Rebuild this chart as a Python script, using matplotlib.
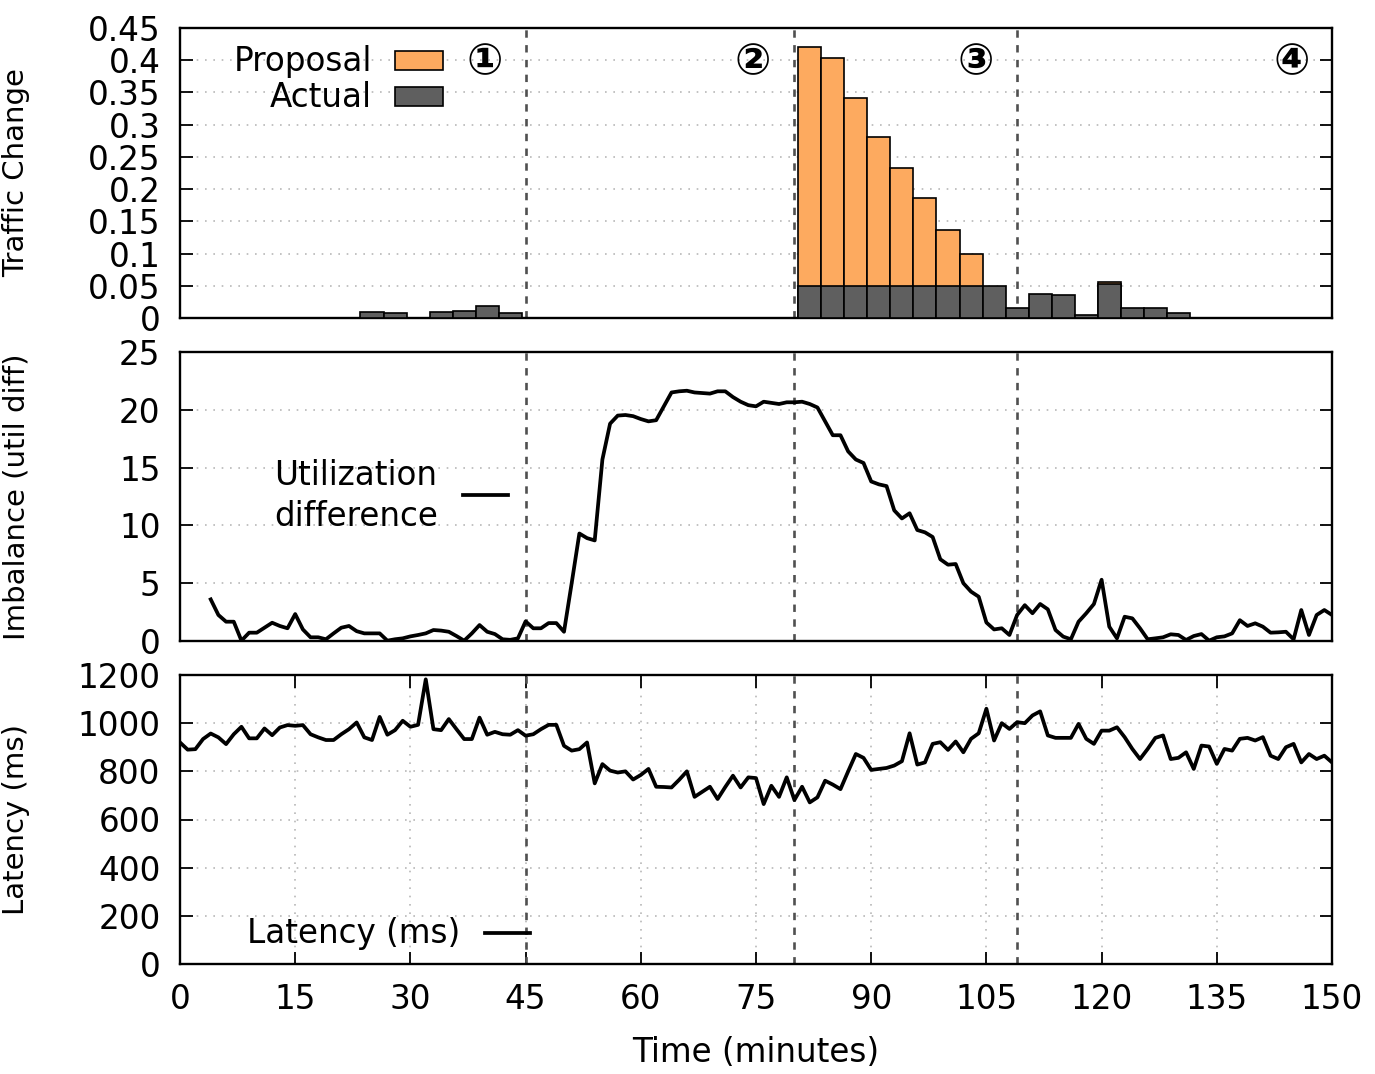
import matplotlib
matplotlib.use("Agg")
import matplotlib.pyplot as plt
import numpy as np
from matplotlib.patches import Rectangle
from matplotlib.lines import Line2D

# ---- data ----
bar_t = [25, 28, 31, 34, 37, 40, 43,
         82, 85, 88, 91, 94, 97, 100, 103, 106,
         109, 112, 115, 118, 121, 124, 127, 130]
proposal = [0, 0, 0, 0, 0, 0, 0,
            0.420, 0.403, 0.341, 0.281, 0.232, 0.186, 0.137, 0.099, 0,
            0, 0, 0, 0, 0.0555, 0, 0, 0]
actual = [0.010, 0.007, 0.0, 0.009, 0.011, 0.018, 0.007,
          0.05, 0.05, 0.05, 0.05, 0.05, 0.05, 0.05, 0.05, 0.05,
          0.015, 0.037, 0.036, 0.005, 0.053, 0.016, 0.016, 0.007]

imb_t = list(range(4, 151))
imbalance = [
    3.6, 2.25, 1.67, 1.67, 0.03, 0.72, 0.72, 1.15, 1.58, 1.3,           # 4-13
    1.1, 2.33, 1.0, 0.32, 0.32, 0.15, 0.66, 1.15, 1.3, 0.85,           # 14-23
    0.66, 0.66, 0.66, 0.03, 0.15, 0.23, 0.4, 0.52, 0.66, 0.95,         # 24-33
    0.9, 0.8, 0.43, 0.03, 0.66, 1.38, 0.8, 0.6, 0.15, 0.1,             # 34-43
    0.23, 1.7, 1.1, 1.1, 1.55, 1.55, 0.8, 5.0, 9.3, 8.9,               # 44-53
    8.7, 15.7, 18.8, 19.5, 19.55, 19.45, 19.2, 19.0, 19.1, 20.3,       # 54-63
    21.5, 21.6, 21.65, 21.5, 21.45, 21.4, 21.6, 21.6, 21.1, 20.7,      # 64-73
    20.4, 20.3, 20.7, 20.6, 20.5, 20.65, 20.65, 20.7, 20.5, 20.2,      # 74-83
    19.0, 17.8, 17.8, 16.4, 15.7, 15.4, 13.8, 13.55, 13.4, 11.3,       # 84-93
    10.6, 11.05, 9.6, 9.4, 9.0, 7.07, 6.6, 6.66, 5.0, 4.27,            # 94-103
    3.83, 1.6, 1.0, 1.1, 0.52, 2.25, 3.1, 2.4, 3.2, 2.74,              # 104-113
    0.95, 0.38, 0.15, 1.67, 2.4, 3.2, 5.3, 1.24, 0.23, 2.1,            # 114-123
    1.96, 1.1, 0.15, 0.23, 0.32, 0.58, 0.52, 0.09, 0.43, 0.6,          # 124-133
    0.03, 0.32, 0.4, 0.66, 1.8, 1.3, 1.53, 1.24, 0.72, 0.75,           # 134-143
    0.8, 0.15, 2.68, 0.52, 2.25, 2.68, 2.25,                           # 144-150
]

lat_t = list(range(0, 151))
latency = [
    920, 890, 892, 934, 957, 941, 913, 954, 985, 937,       # 0-9
    937, 978, 950, 982, 992, 989, 992, 954, 941, 930,       # 10-19
    930, 954, 975, 1003, 941, 930, 1026, 952, 971, 1010,    # 20-29
    985, 993, 1182, 975, 971, 1017, 975, 934, 934, 1023,    # 30-39
    952, 964, 954, 952, 971, 948, 954, 975, 993, 993,       # 40-49
    906, 886, 892, 920, 750, 830, 803, 795, 800, 766,       # 50-59
    785, 810, 736, 735, 733, 765, 800, 694, 715, 736,       # 60-69
    685, 735, 782, 733, 775, 772, 664, 740, 694, 775,       # 70-79
    681, 736, 671, 692, 761, 745, 726, 800, 872, 856,       # 80-89
    806, 810, 814, 824, 842, 958, 828, 837, 914, 921,       # 90-99
    889, 924, 879, 935, 958, 1060, 928, 1000, 976, 1004,    # 100-109
    1000, 1032, 1049, 949, 939, 939, 939, 997, 935, 914,    # 110-119
    969, 969, 983, 942, 893, 851, 893, 939, 949, 851,       # 120-129
    856, 879, 810, 907, 903, 831, 893, 886, 935, 939,       # 130-139
    928, 942, 865, 851, 900, 914, 837, 872, 851, 865,       # 140-149
    837,                                                    # 150
]

phase_t = [45, 80, 109]
phase_lbl_t = [39.7, 74.6, 103.6, 144.8]
phase_lbl = ["\u2460", "\u2461", "\u2462", "\u2463"]

ORANGE = "#fdaa5f"
GRAY = "#5f5f5f"
FS_TICK = 23.5
FS_LAB = 21
LW = 2.7

W, H = 1375, 1074
fig = plt.figure(figsize=(W / 100, H / 100), dpi=100)


def px_axes(top, bottom):
    return fig.add_axes([180 / W, 1 - bottom / H, 1152 / W, (bottom - top) / H])


ax1 = px_axes(28, 318)
ax2 = px_axes(352, 641)
ax3 = px_axes(675, 964)


def style(ax, xlabels):
    ax.set_xlim(0, 150)
    for s in ax.spines.values():
        s.set_linewidth(1.7)
    ax.tick_params(axis="y", direction="in", length=9, width=1.3,
                   labelsize=FS_TICK, pad=14, right=True)
    if xlabels:
        ax.set_xticks(np.arange(0, 151, 15))
        ax.tick_params(axis="x", direction="in", length=9, width=1.3,
                       labelsize=FS_TICK, pad=14, top=True)
        ax.grid(True, axis="both", color="#b8b8b8", linestyle=(0, (1, 4)), linewidth=1.2)
    else:
        ax.set_xticks([])
        ax.grid(True, axis="y", color="#b8b8b8", linestyle=(0, (1, 4)), linewidth=1.2)
    ax.set_axisbelow(True)
    for t in phase_t:
        ax.axvline(t, color="#505050", linewidth=1.9, linestyle=(0, (2.8, 2.8)), zorder=1)


# ---- top: traffic change bars ----
style(ax1, False)
ax1.bar(bar_t, proposal, width=3, color=ORANGE, edgecolor="black", linewidth=1.2, zorder=2)
ax1.bar(bar_t, actual, width=3, color=GRAY, edgecolor="black", linewidth=1.2, zorder=3)
ax1.set_ylim(0, 0.45)
ax1.set_yticks(np.arange(0, 0.451, 0.05))
ax1.set_yticklabels(["%g" % round(v, 2) for v in np.arange(0, 0.451, 0.05)])
ax1.set_ylabel("Traffic Change", fontsize=FS_LAB)
ax1.yaxis.set_label_coords(-0.13, 0.5)
for x, s in zip(phase_lbl_t, phase_lbl):
    ax1.text(x, 0.397, s, fontsize=31, ha="center", va="center", fontweight="bold")
# key
ax1.text(0.1667, 0.886, "Proposal", transform=ax1.transAxes, fontsize=FS_TICK,
         ha="right", va="center")
ax1.text(0.1667, 0.762, "Actual", transform=ax1.transAxes, fontsize=FS_TICK,
         ha="right", va="center")
ax1.add_patch(Rectangle((0.1866, 0.855), 0.0417, 0.066, transform=ax1.transAxes,
                        facecolor=ORANGE, edgecolor="black", linewidth=1.2, zorder=4))
ax1.add_patch(Rectangle((0.1866, 0.731), 0.0417, 0.066, transform=ax1.transAxes,
                        facecolor=GRAY, edgecolor="black", linewidth=1.2, zorder=4))

# ---- middle: imbalance ----
style(ax2, False)
ax2.plot(imb_t, imbalance, color="black", linewidth=LW, zorder=3)
ax2.set_ylim(0, 25)
ax2.set_yticks(np.arange(0, 26, 5))
ax2.set_ylabel("Imbalance (util diff)", fontsize=FS_LAB)
ax2.yaxis.set_label_coords(-0.13, 0.5)
ax2.text(0.224, 0.502, "Utilization\ndifference", transform=ax2.transAxes,
         fontsize=FS_TICK, ha="right", va="center", multialignment="left",
         linespacing=1.3)
ax2.add_line(Line2D([0.2457, 0.2847], [0.505, 0.505], transform=ax2.transAxes,
                    color="black", linewidth=LW))

# ---- bottom: latency ----
style(ax3, True)
ax3.plot(lat_t, latency, color="black", linewidth=LW, zorder=3)
ax3.set_ylim(0, 1200)
ax3.set_yticks(np.arange(0, 1201, 200))
ax3.set_ylabel("Latency (ms)", fontsize=FS_LAB)
ax3.yaxis.set_label_coords(-0.13, 0.5)
ax3.text(0.243, 0.107, "Latency (ms)", transform=ax3.transAxes,
         fontsize=FS_TICK, ha="right", va="center")
ax3.add_line(Line2D([0.2648, 0.3038], [0.107, 0.107], transform=ax3.transAxes,
                    color="black", linewidth=LW))

fig.text(756 / W, 1 - 1052 / H, "Time (minutes)", fontsize=FS_TICK,
         ha="center", va="center")

fig.savefig("out.png", dpi=100)
